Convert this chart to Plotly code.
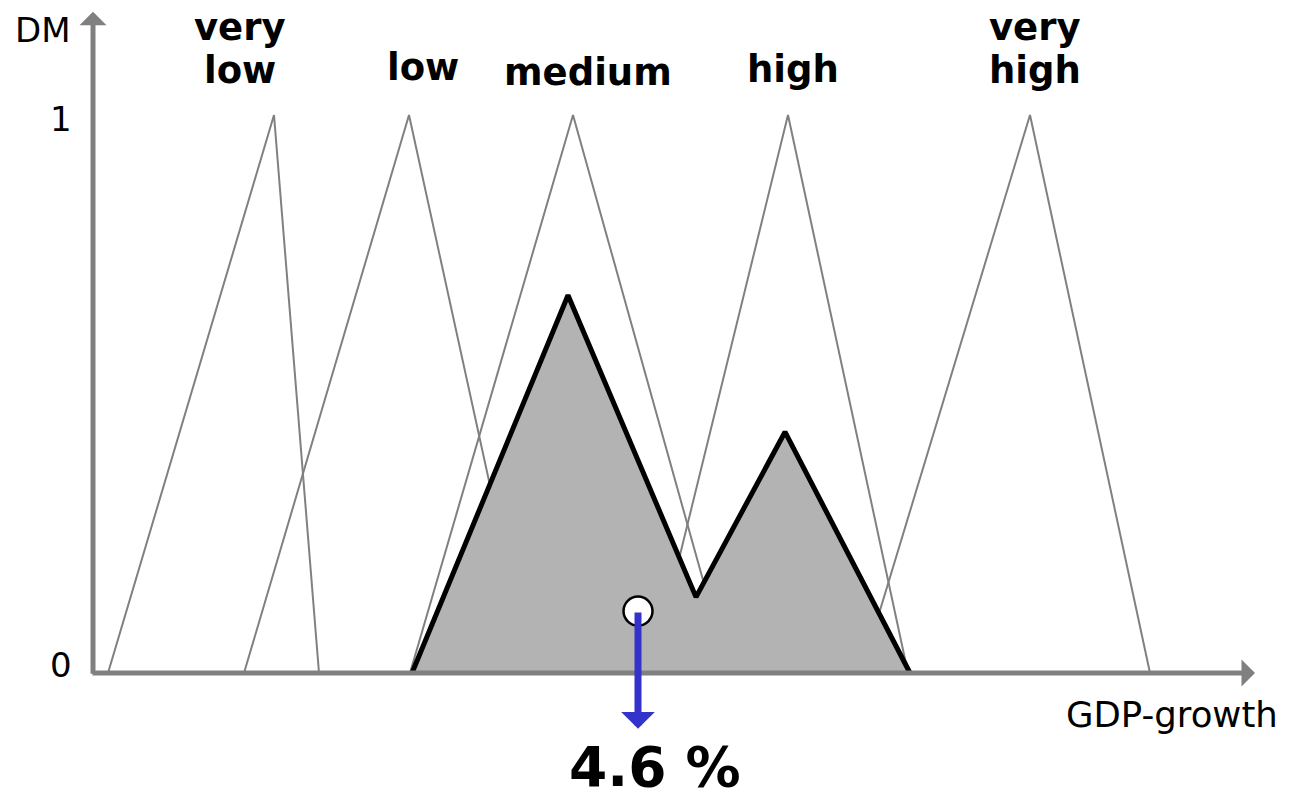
import plotly.graph_objects as go

# ---- data (x in chart units, y = degree of membership) ----
term_names = ["very<br>low", "low", "medium", "high", "very<br>high"]
term_left = [1.08, 2.44, 4.10, 6.51, 8.61]
term_peak = [2.74, 4.09, 5.73, 7.88, 10.30]
term_right = [3.19, 5.31, 7.29, 9.08, 11.50]
label_x = [2.40, 4.23, 5.88, 7.93, 10.35]
label_y = [1.157, 1.086, 1.077, 1.081, 1.157]   # y of the first text line

agg_x = [4.12, 5.68, 6.96, 7.85, 9.10]
agg_y = [0.0, 0.677, 0.136, 0.432, 0.0]

centroid_x = [6.38]
centroid_y = [0.111]
result_label = "4.6 %"

FONT = "DejaVu Sans"
GRAY = "#808080"
LINE_STEP = 0.077  # vertical spacing between label lines (data units)

fig = go.Figure()

# membership triangles
for l, p, r in zip(term_left, term_peak, term_right):
    fig.add_trace(go.Scatter(
        x=[l, p, r], y=[0, 1, 0], mode="lines",
        line=dict(color=GRAY, width=2), hoverinfo="skip", showlegend=False))

# aggregated fuzzy set (fill)
fig.add_trace(go.Scatter(
    x=agg_x + [agg_x[0]], y=agg_y + [agg_y[0]], mode="lines",
    fill="toself", fillcolor="#B3B3B3", line=dict(width=0),
    hoverinfo="skip", showlegend=False))
# outline
fig.add_trace(go.Scatter(
    x=agg_x, y=agg_y, mode="lines",
    line=dict(color="black", width=5), hoverinfo="skip", showlegend=False))

# centroid marker
fig.add_trace(go.Scatter(
    x=centroid_x, y=centroid_y, mode="markers",
    marker=dict(size=29, color="white", line=dict(color="black", width=2.5)),
    hoverinfo="skip", showlegend=False))

ann = []
# axes with arrowheads
ann.append(dict(x=12.55, y=0, ax=0.91, ay=0, xref="x", yref="y", axref="x", ayref="y",
                text="", showarrow=True, arrowhead=1, arrowsize=0.9, arrowwidth=5,
                arrowcolor=GRAY, standoff=0, startstandoff=0))
ann.append(dict(x=0.93, y=1.185, ax=0.93, ay=-0.004, xref="x", yref="y", axref="x", ayref="y",
                text="", showarrow=True, arrowhead=1, arrowsize=0.9, arrowwidth=5,
                arrowcolor=GRAY, standoff=0, startstandoff=0))
# result arrow
ann.append(dict(x=centroid_x[0], y=-0.1, ax=centroid_x[0], ay=centroid_y[0],
                xref="x", yref="y", axref="x", ayref="y",
                text="", showarrow=True, arrowhead=1, arrowsize=0.8, arrowwidth=7,
                arrowcolor="#3333CC", standoff=0, startstandoff=0))

# term labels (each line as its own annotation)
for name, lx, ly in zip(term_names, label_x, label_y):
    for i, part in enumerate(name.split("<br>")):
        ann.append(dict(x=lx, y=ly - i * LINE_STEP, xref="x", yref="y",
                        text="<b>" + part + "</b>", showarrow=False,
                        font=dict(family=FONT, size=37, color="black"),
                        xanchor="center", yanchor="middle"))

# axis labels / ticks
ann.append(dict(x=0.43, y=1.152, xref="x", yref="y", text="DM", showarrow=False,
                font=dict(family=FONT, size=34, color="black")))
ann.append(dict(x=0.61, y=0.993, xref="x", yref="y", text="1", showarrow=False,
                font=dict(family=FONT, size=34, color="black")))
ann.append(dict(x=0.61, y=0.014, xref="x", yref="y", text="0", showarrow=False,
                font=dict(family=FONT, size=34, color="black")))
ann.append(dict(x=11.72, y=-0.074, xref="x", yref="y", text="GDP-growth", showarrow=False,
                font=dict(family=FONT, size=35.5, color="black")))
ann.append(dict(x=6.55, y=-0.168, xref="x", yref="y", text="<b>" + result_label + "</b>",
                showarrow=False, font=dict(family=FONT, size=55, color="black")))

fig.update_layout(
    width=1305, height=798,
    margin=dict(l=0, r=0, t=0, b=0),
    paper_bgcolor="white", plot_bgcolor="white",
    xaxis=dict(range=[0.0, 13.05], visible=False, fixedrange=True),
    yaxis=dict(range=[-0.2240, 1.2061], visible=False, fixedrange=True),
    annotations=ann,
    showlegend=False,
)

fig.write_html(
    "out.html",
    config={"displayModeBar": False},
    post_script="document.body.style.margin='0';document.body.style.overflow='hidden';",
)
